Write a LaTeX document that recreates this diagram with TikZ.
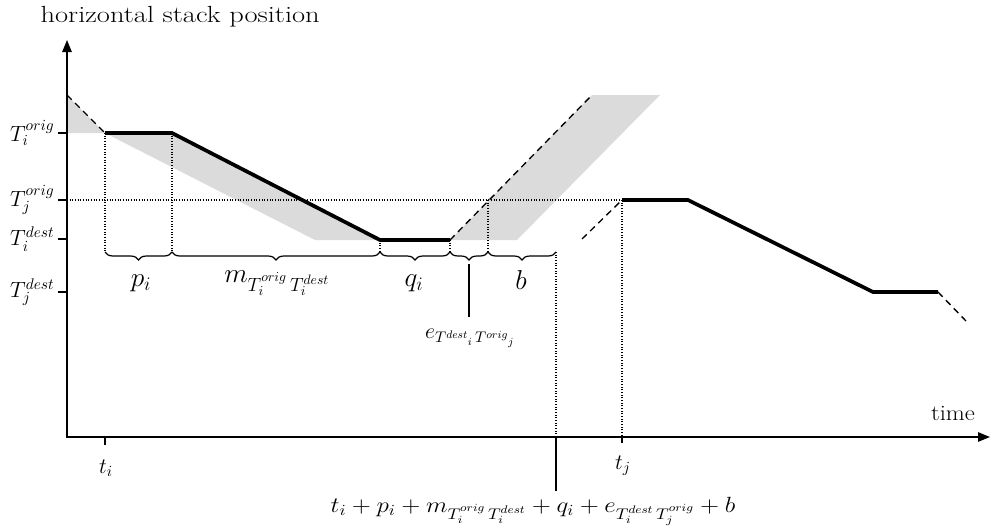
\documentclass[tikz,border=0pt]{standalone}
\usepackage{fix-cm}
\usetikzlibrary{decorations.pathreplacing,arrows.meta}
\begin{document}
\begin{tikzpicture}[x=0.75pt,y=-0.75pt,
  every node/.style={font=\fontsize{16.5}{20}\selectfont},
  big/.style={font=\fontsize{20.5}{24}\selectfont},
  axis/.style={line width=1.3pt},
  route/.style={line width=2.8pt},
  dashline/.style={line width=1pt,dash pattern=on 5pt off 3.5pt},
  dotline/.style={line width=0.8pt,dash pattern=on 0.8pt off 1.2pt},
  shade/.style={fill=black!14,draw=none},
  br/.style={decorate,decoration={brace,amplitude=6pt,mirror},line width=0.9pt},
  lbl/.style={inner sep=1pt}]
\useasboundingbox (0,0) rectangle (990,529);
% gray regions
\fill[shade] (67,95) -- (67,133) -- (105,133) -- cycle;
\fill[shade] (105,133) -- (315,240) -- (380,240) -- (172,133) -- cycle;
\fill[shade] (450,240) -- (592,95) -- (660,95) -- (517,240) -- cycle;
% coordinates
\coordinate (O) at (67,437);
\coordinate (Ytop) at (67,40);
\coordinate (Xend) at (990,437);
\coordinate (A0) at (67,95);
\coordinate (A1) at (105,133);
\coordinate (A2) at (172,133);
\coordinate (A3) at (380,240);
\coordinate (A4) at (450,240);
\coordinate (A5) at (592,95);
\coordinate (B0) at (582,239);
\coordinate (B1) at (622,200);
\coordinate (B2) at (688,200);
\coordinate (B3) at (873,292);
\coordinate (B4) at (938,292);
\coordinate (B5) at (966,321);
\coordinate (H0) at (67,200);
\coordinate (V488) at (488,200);
% dotted guides
\draw[dotline] (H0) -- (B1);
\draw[dotline] (A1) -- (105,252);
\draw[dotline] (A2) -- (172,252);
\draw[dotline] (A3) -- (380,252);
\draw[dotline] (A4) -- (450,252);
\draw[dotline] (V488) -- (488,252);
\draw[dotline] (556,252) -- (556,437);
\draw[dotline] (B1) -- (622,437);
% dashed lines
\draw[dashline] (A0) -- (A1);
\draw[dashline] (A4) -- (A5);
\draw[dashline] (B0) -- (B1);
\draw[dashline] (B4) -- (B5);
% thick routes
\draw[route,line join=miter] (A1) -- (A2) -- (A3) -- (A4);
\draw[route,line join=miter] (B1) -- (B2) -- (B3) -- (B4);
% axes
\draw[axis,{Triangle[length=9pt,width=7pt]}-{Triangle[length=9pt,width=7pt]}] (Ytop) -- (O) -- (Xend);
\node[lbl,anchor=base west,font=\fontsize{17.5}{21}\selectfont] (ylab) at (39,22) {\scalebox{1.22}[1]{horizontal stack position}};
\node[lbl,anchor=base] (xlab) at (953,420) {\scalebox{1.12}[1]{time}};
% y ticks
\foreach \yy/\nm/\tx in {133/ti/{T_i^{orig}},200/tj/{T_j^{orig}},239/di/{T_i^{dest}},292/dj/{T_j^{dest}}}{
  \draw[line width=0.9pt] (58,\yy) -- (67,\yy);
  \node[lbl,anchor=east] (y\nm) at (56,\yy) {$\tx$};
}
% x ticks
\draw[line width=0.9pt] (105,437) -- (105,445);
\draw[line width=0.9pt] (622,437) -- (622,443);
\node[lbl] (tilab) at (106,468) {$t_i$};
\node[lbl] (tjlab) at (623,466) {$t_j$};
% braces
\draw[br] (105,252) -- (172,252);
\draw[br] (172,252) -- (380,252);
\draw[br] (380,252) -- (450,252);
\draw[br] (450,252) -- (488,252);
\draw[br] (488,252) -- (556,252);
\node[lbl,big] (pl) at (141,283) {$p_i$};
\node[lbl,big] (ml) at (277,283) {$m_{T_i^{orig}\,T_i^{dest}}$};
\node[lbl,big] (ql) at (414,283) {$q_i$};
\node[lbl,big] (bl) at (521,280) {$b$};
\coordinate (etip) at (469,264);
\coordinate (eend) at (469,317);
\node[lbl] (el) at (470,338) {$e_{T^{dest}{}_i\,T^{orig}{}_j}$};
\draw[line width=0.9pt] (etip) -- (eend);
% bottom formula
\node[lbl,anchor=base] (sum) at (533,512) {\scalebox{1.14}[1]{$t_i+p_i+m_{T_i^{orig}\,T_i^{dest}}+q_i+e_{T_i^{dest}\,T_j^{orig}}+b$}};
\coordinate (sumtop) at (556,437);
\coordinate (sumbot) at (556,491);
\draw[line width=0.9pt] (sumtop) -- (sumbot);
\end{tikzpicture}
\end{document}
